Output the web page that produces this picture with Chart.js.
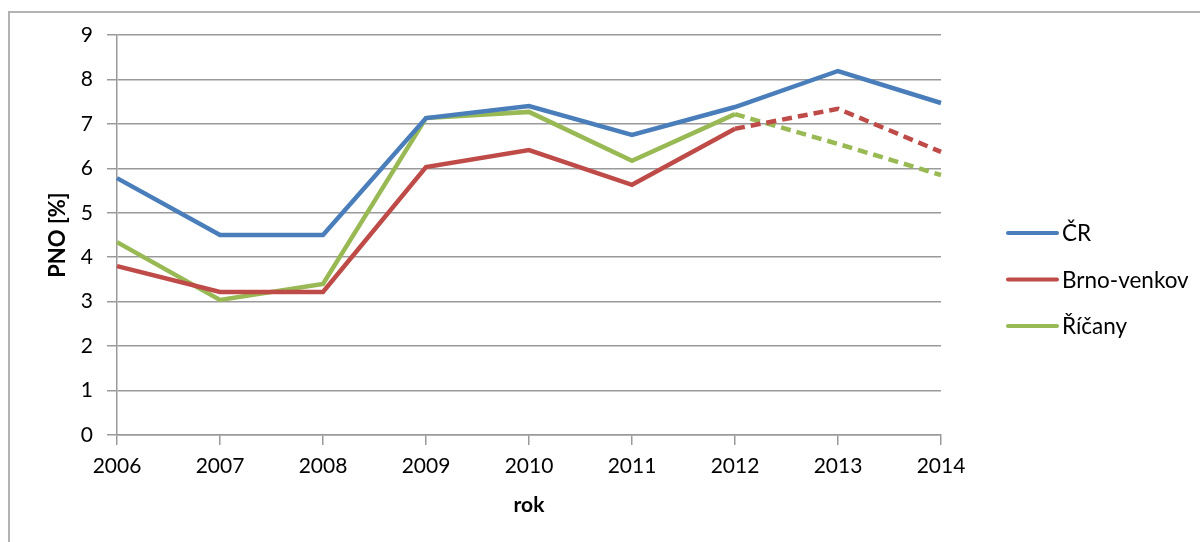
<!DOCTYPE html>
<html>
<head>
<meta charset="utf-8">
<script src="https://cdn.jsdelivr.net/npm/chart.js@4/dist/chart.umd.min.js"></script>
<style>
  html, body { margin: 0; padding: 0; background: #fff; }
  #wrap { width: 1200px; height: 542px; position: relative; }
</style>
</head>
<body>
<div id="wrap"><canvas id="myChart"></canvas></div>
<script>
// data
const years = ['2006', '2007', '2008', '2009', '2010', '2011', '2012', '2013', '2014'];
const cr = [5.78, 4.5, 4.5, 7.13, 7.4, 6.75, 7.38, 8.19, 7.47];
const brnoVenkov = [3.8, 3.22, 3.22, 6.03, 6.41, 5.63, 6.89, 7.34, 6.37];
const ricany = [4.34, 3.04, 3.4, 7.13, 7.27, 6.17, 7.22, 6.55, 5.85];
const yTicks = [0, 1, 2, 3, 4, 5, 6, 7, 8, 9];

const FONT = 'Lato, "Open Sans", sans-serif';
const dashFrom = 6; // prognosis after 2012 is dashed

// outer frame + legend on the right
const frameAndLegend = {
  id: 'frameAndLegend',
  beforeDraw(chart) {
    const c = chart.ctx;
    c.save();
    c.fillStyle = '#fff';
    c.fillRect(0, 0, chart.width, chart.height);
    c.strokeStyle = '#b3b3b3';
    c.lineWidth = 2;
    c.strokeRect(9, 12, chart.width + 20, chart.height + 20);
    c.restore();
  },
  afterDraw(chart) {
    const c = chart.ctx;
    c.save();
    c.font = '22.5px ' + FONT;
    c.textBaseline = 'middle';
    chart.data.datasets.forEach((ds, i) => {
      let y = 233 + i * 46.5;
      c.strokeStyle = ds.borderColor;
      c.lineWidth = 4;
      c.lineCap = 'round';
      c.beginPath();
      c.moveTo(1008, y);
      c.lineTo(1057, y);
      c.stroke();
      c.fillStyle = '#000';
      c.fillText(ds.label, 1062, y + 1);
    });
    c.restore();
  }
};

function dashAfter(ctx) {
  return ctx.p0DataIndex >= dashFrom ? [10, 6] : undefined;
}

const ctx = document.getElementById('myChart').getContext('2d');
const myChart = new Chart(ctx, {
  type: 'line',
  data: {
    labels: years,
    datasets: [{
      label: 'ČR',
      data: cr,
      borderColor: '#4A7EBB',
      borderWidth: 4.5,
      pointRadius: 0,
      tension: 0,
    },
    {
      label: 'Brno-venkov',
      data: brnoVenkov,
      borderColor: '#BE4B48',
      borderWidth: 4.5,
      pointRadius: 0,
      tension: 0,
      segment: { borderDash: dashAfter },
    },
    {
      label: 'Říčany',
      data: ricany,
      borderColor: '#98B954',
      borderWidth: 4.5,
      pointRadius: 0,
      tension: 0,
      segment: { borderDash: dashAfter },
    }]
  },
  options: {
    responsive: true,
    maintainAspectRatio: false,
    animation: false,
    layout: { padding: { left: 0, top: 35, right: 259, bottom: 0 } },
    plugins: {
      legend: { display: false },
      tooltip: { enabled: false }
    },
    scales: {
      x: {
        offset: false,
        afterFit: (s) => { s.height = 107; },
        border: { display: true, color: '#9a9a9a', width: 1.5 },
        grid: { drawOnChartArea: false, drawTicks: true, tickLength: 10, color: '#9a9a9a', lineWidth: 1.5 },
        ticks: { color: '#000', padding: 9, maxRotation: 0, font: { family: FONT, size: 21 } },
        title: {
          display: true, text: 'rok', color: '#000',
          font: { family: FONT, size: 21, weight: 'bold' },
          padding: { top: 0, bottom: 24 }
        }
      },
      y: {
        min: 0,
        max: 9,
        afterFit: (s) => { s.width = 117; },
        afterBuildTicks: (s) => { s.ticks = yTicks.map(v => ({ value: v })); },
        border: { display: true, color: '#9a9a9a', width: 1.5 },
        grid: { drawTicks: true, tickLength: 10, color: '#9a9a9a', lineWidth: 1.5 },
        ticks: { color: '#000', padding: 14, font: { family: FONT, size: 21 } },
        title: {
          display: true, text: 'PNO [%]', color: '#000',
          font: { family: FONT, size: 22, weight: 'bold' },
          padding: { top: 45, bottom: 0 }
        }
      }
    }
  },
  plugins: [frameAndLegend]
});
</script>
</body>
</html>
